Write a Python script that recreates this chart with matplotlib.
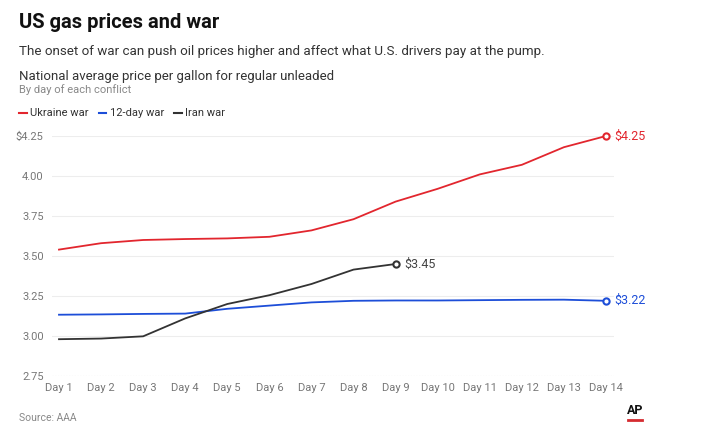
import numpy as np
import matplotlib.pyplot as plt

plt.rcParams['font.family'] = ['Roboto', 'DejaVu Sans']

days = ['Day %d' % i for i in range(1, 15)]
ukraine = [3.54, 3.58, 3.60, 3.606, 3.61, 3.62, 3.66, 3.73, 3.84, 3.92, 4.01, 4.07, 4.18, 4.25]
twelve_day = [3.133, 3.135, 3.138, 3.14, 3.17, 3.19, 3.21, 3.22, 3.222, 3.222, 3.224, 3.226, 3.227, 3.22]
iran = [2.98, 2.984, 2.998, 3.11, 3.20, 3.255, 3.325, 3.415, 3.45]
yticks = [2.75, 3.00, 3.25, 3.50, 3.75, 4.00, 4.25]
ytick_labels = ['2.75', '3.00', '3.25', '3.50', '3.75', '4.00', '$4.25']

red = '#e2262e'
blue = '#1d4ed8'
black = '#333333'

fig = plt.figure(figsize=(7.08, 4.48), dpi=100)
ax = fig.add_axes([52 / 708, 1 - 376 / 448, (614 - 52) / 708, 240 / 448])

x_all = np.arange(1, 15)
series = [(ukraine, red), (twelve_day, blue), (iran, black)]
for vals, col in series:
    x = x_all[:len(vals)]
    ax.plot(x, vals, color=col, lw=1.3, clip_on=False, zorder=3)
    ax.plot(x[-1], vals[-1], 'o', ms=4.5, mfc='white', mec=col, mew=1.5,
            clip_on=False, zorder=4)
    ax.annotate('$%.2f' % vals[-1], (x[-1], vals[-1]), xytext=(6, 0),
                textcoords='offset points', va='center', ha='left',
                fontsize=9, color=col if col != black else '#444444')

ax.set_xlim(0.834, 14.19)
ax.set_ylim(2.75, 4.25)
ax.set_xticks(x_all)
ax.set_xticklabels(days)
ax.set_yticks(yticks)
ax.set_yticklabels(ytick_labels)
for v in yticks[1:]:
    ax.axhline(v, color='#ededed', lw=0.8, zorder=1)
ax.axhline(2.75, color='#bbbbbb', lw=0.8, ls=(0, (1, 1.5)), zorder=1)
for s in ax.spines.values():
    s.set_visible(False)
ax.tick_params(length=0, labelsize=8, colors='#777777', pad=5)
ax.tick_params(axis='y', pad=6)

fig.text(19 / 708, 1 - 22 / 448, 'US gas prices and war', fontsize=14.5,
         fontweight='bold', color='#111111', va='center')
fig.text(19 / 708, 1 - 52 / 448,
         'The onset of war can push oil prices higher and affect what U.S. drivers pay at the pump.',
         fontsize=9.6, color='#333333', va='center')
fig.text(19 / 708, 1 - 76 / 448, 'National average price per gallon for regular unleaded',
         fontsize=9.5, color='#333333', va='center')
fig.text(19 / 708, 1 - 90 / 448, 'By day of each conflict', fontsize=8,
         color='#888888', va='center')

# legend
lx = 19
for label, col in [('Ukraine war', red), ('12-day war', blue), ('Iran war', black)]:
    fig.add_artist(plt.Line2D([lx / 708, (lx + 8) / 708], [1 - 113 / 448] * 2,
                              color=col, lw=1.5))
    t = fig.text((lx + 11) / 708, 1 - 113 / 448, label, fontsize=8,
                 color='#333333', va='center')
    fig.canvas.draw()
    bb = t.get_window_extent()
    lx = bb.x1 + 10

fig.text(19 / 708, 1 - 418 / 448, 'Source: AAA', fontsize=7.5, color='#888888', va='center')
fig.text(635 / 708, 1 - 410 / 448, 'AP', fontsize=9, fontweight='bold',
         color='#111111', ha='center', va='center')
fig.add_artist(plt.Line2D([628 / 708, 642 / 708], [1 - 420 / 448] * 2,
                          color='#d52b30', lw=2))

fig.savefig('out.png', dpi=100)
